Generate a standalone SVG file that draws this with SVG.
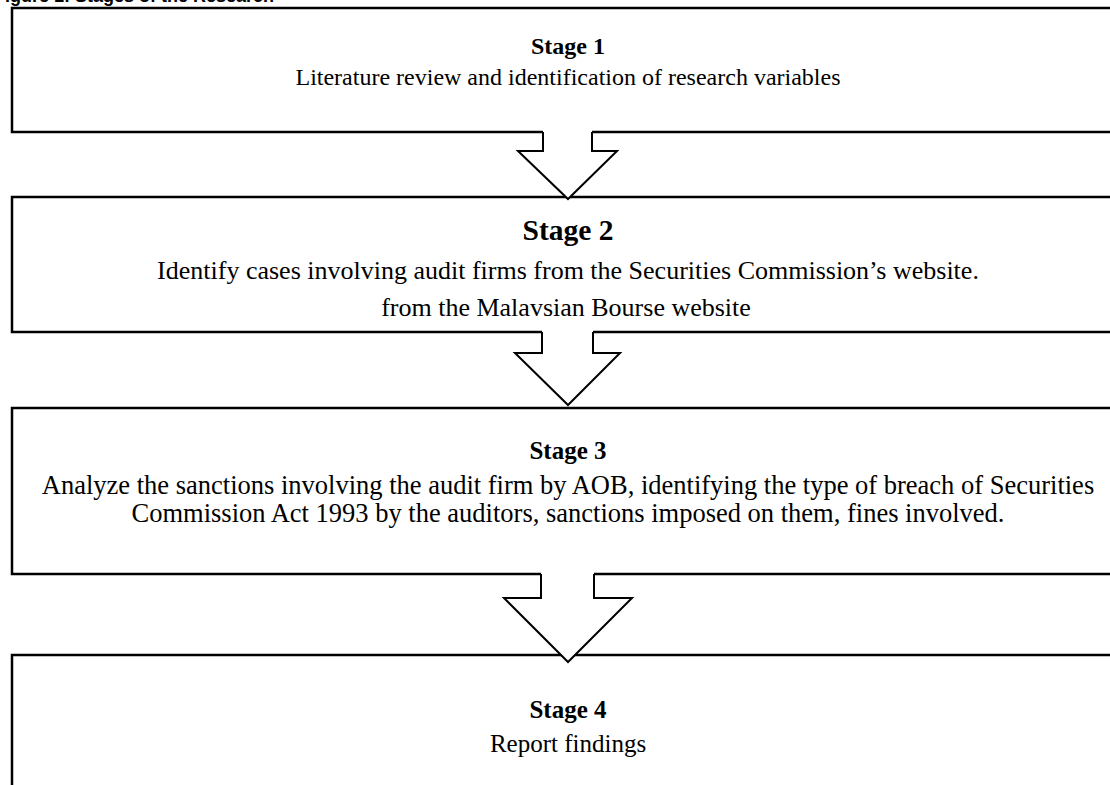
<svg xmlns="http://www.w3.org/2000/svg" width="1110" height="785" viewBox="0 0 1110 785">
<style>
.box{fill:#fff;stroke:#000;stroke-width:2.5}
.arrfill{fill:#fff;stroke:none}
.arr{fill:none;stroke:#000;stroke-width:2;stroke-linejoin:miter}
.h{font-family:"Liberation Serif","Times New Roman",serif;font-weight:bold;text-anchor:middle;fill:#000}
.t{font-family:"Liberation Serif","Times New Roman",serif;text-anchor:middle;fill:#000}
.title{font-family:"Liberation Sans",Arial,sans-serif;font-weight:bold;font-size:18px;fill:#000}
</style>
<rect width="1110" height="785" fill="#fff"/>
<text class="title" x="-6" y="2">Figure 1: Stages of the Research</text>
<g id="stage1">
<rect class="box" x="12" y="8" width="1110" height="124"/>
<text class="h" x="568" y="54" font-size="24">Stage 1</text>
<text class="t" x="568" y="85" font-size="24">Literature review and identification of research variables</text>
</g>
<g id="stage2">
<rect class="box" x="12" y="197" width="1110" height="135"/>
<text class="h" x="568" y="240" font-size="29.5">Stage 2</text>
<text class="t" x="568" y="279" font-size="26">Identify cases involving audit firms from the Securities Commission’s website.</text>
<text class="t" x="566" y="316" font-size="26">from the Malavsian Bourse website</text>
</g>
<g id="stage3">
<rect class="box" x="12" y="408" width="1110" height="166"/>
<text class="h" x="568" y="459" font-size="25">Stage 3</text>
<text class="t" x="568" y="494" font-size="26.5">Analyze the sanctions involving the audit firm by AOB, identifying the type of breach of Securities</text>
<text class="t" x="568" y="522" font-size="26.5">Commission Act 1993 by the auditors, sanctions imposed on them, fines involved.</text>
</g>
<g id="stage4">
<rect class="box" x="12" y="655" width="1110" height="150"/>
<text class="h" x="568" y="718" font-size="25">Stage 4</text>
<text class="t" x="568" y="752" font-size="25">Report findings</text>
</g>
<g id="connectors">
<polygon class="arrfill" points="543,129 592,129 592,151 617,151 568,199 518,151 543,151"/>
<polyline class="arr" points="543,132 543,151 518,151 568,199 617,151 592,151 592,132"/>
<polygon class="arrfill" points="542,329 593,329 593,353 620,353 568,405 515,353 542,353"/>
<polyline class="arr" points="542,332 542,353 515,353 568,405 620,353 593,353 593,332"/>
<polygon class="arrfill" points="541,571 594,571 594,598 632,598 568,662 504,598 541,598"/>
<polyline class="arr" points="541,574 541,598 504,598 568,662 632,598 594,598 594,574"/>
</g>
</svg>
